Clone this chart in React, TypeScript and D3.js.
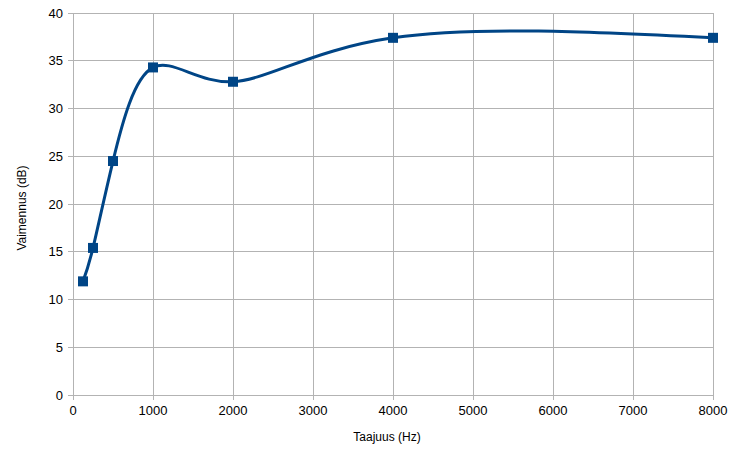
import React from "react";
import * as d3 from "d3";

const freqs = [125, 250, 500, 1000, 2000, 4000, 8000];
const attenuation = [11.9, 15.4, 24.5, 34.3, 32.8, 37.4, 37.4];
const xTicks = [0, 1000, 2000, 3000, 4000, 5000, 6000, 7000, 8000];
const yTicks = [0, 5, 10, 15, 20, 25, 30, 35, 40];
const xTitle = "Taajuus (Hz)";
const yTitle = "Vaimennus (dB)";

export default function App() {
  const W = 737, H = 452;
  const left = 73, right = 713, top = 13, bottom = 395;
  const x = d3.scaleLinear().domain([0, 8000]).range([left, right]);
  const y = d3.scaleLinear().domain([0, 40]).range([bottom, top]);
  const pts = freqs.map((f, i) => [f, attenuation[i]] as [number, number]);
  const line = d3.line<[number, number]>().x(d => x(d[0])).y(d => y(d[1])).curve(d3.curveNatural);
  const font = "'Liberation Sans', Arial, sans-serif";
  const grid = "#b3b3b3";
  return (
    <svg width={W} height={H} style={{ position: "absolute", left: 0, top: 0 }} fontFamily={font}>
      <rect width={W} height={H} fill="#fff" />
      {yTicks.map(t => (
        <g key={"y" + t}>
          <line x1={left - 5} x2={right} y1={y(t)} y2={y(t)} stroke={grid} strokeWidth={1} shapeRendering="crispEdges" />
          <text x={63} y={y(t) + 4.5} textAnchor="end" fontSize={13} fill="#000">{t}</text>
        </g>
      ))}
      {xTicks.map(t => (
        <g key={"x" + t}>
          <line x1={x(t)} x2={x(t)} y1={top} y2={bottom + 5} stroke={grid} strokeWidth={1} shapeRendering="crispEdges" />
          <text x={x(t)} y={415} textAnchor="middle" fontSize={13} fill="#000">{t}</text>
        </g>
      ))}
      <path d={line(pts) || ""} fill="none" stroke="#004586" strokeWidth={3} />
      {pts.map((p, i) => (
        <rect key={i} x={x(p[0]) - 5} y={y(p[1]) - 5} width={10} height={10} fill="#004586" />
      ))}
      <text x={387} y={441} textAnchor="middle" fontSize={12} fill="#000">{xTitle}</text>
      <text transform={`translate(26,208) rotate(-90)`} textAnchor="middle" fontSize={12} fill="#000">{yTitle}</text>
    </svg>
  );
}
